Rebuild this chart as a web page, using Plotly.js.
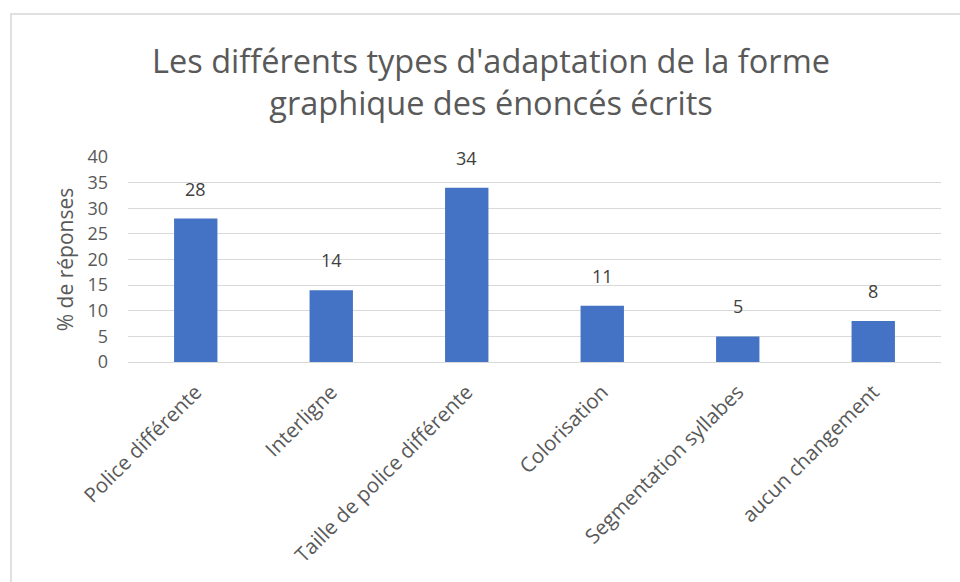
<!DOCTYPE html>
<html><head><meta charset="utf-8">
<script src="https://cdn.plot.ly/plotly-3.0.1.min.js"></script>
<style>
html,body{margin:0;padding:0;background:#fff;}
#wrap{position:relative;width:960px;height:582px;overflow:hidden;}
#frame{position:absolute;left:10px;top:13px;width:1000px;height:600px;border:2px solid #e0e0e0;pointer-events:none;}
#chart{position:absolute;left:0;top:0;width:960px;height:582px;}
</style></head>
<body>
<div id="wrap"><div id="chart"></div><div id="frame"></div></div>
<script>
const categories = ["Police différente","Interligne","Taille de police différente","Colorisation","Segmentation syllabes","aucun changement"];
const values = [28,14,34,11,5,8];
const yTicks = [0,5,10,15,20,25,30,35,40];

const font = "Open Sans, Noto Sans, sans-serif";
Plotly.newPlot("chart",[{
  type:"bar",
  x:categories,
  y:values,
  marker:{color:"#4472C4"},
  hoverinfo:"none"
}],{
  width:960,height:582,
  margin:{l:128,r:19,t:157,b:220},
  paper_bgcolor:"rgba(0,0,0,0)",plot_bgcolor:"#fff",
  bargap:0.68,
  title:{text:"Les différents types d'adaptation de la forme<br>graphique des énoncés écrits",
    font:{family:font,size:32.5,color:"#595959"},x:0.5115,xanchor:"center",y:0.875,yanchor:"middle"},
  xaxis:{tickangle:-45,tickfont:{family:font,size:20.5,color:"#595959"},showgrid:false,
    showline:true,linecolor:"#d9d9d9",ticks:"",zeroline:false,ticklabelstandoff:9},
  yaxis:{range:[0,40],tickvals:yTicks,ticktext:yTicks.map(String),
    tickfont:{family:font,size:18,color:"#595959"},gridcolor:"#d9d9d9",zeroline:false,
    showline:false,ticks:"",ticklen:0,ticklabelstandoff:19,
    title:{text:"% de réponses",font:{family:font,size:21,color:"#595959"},standoff:8}},
  annotations:categories.map((c,i)=>({x:c,y:values[i],text:String(values[i]),showarrow:false,
    xref:"x",yref:"y",yanchor:"bottom",yshift:16,font:{family:font,size:18,color:"#404040"}})),
  showlegend:false
},{displayModeBar:false,staticPlot:true});
</script>
</body></html>
